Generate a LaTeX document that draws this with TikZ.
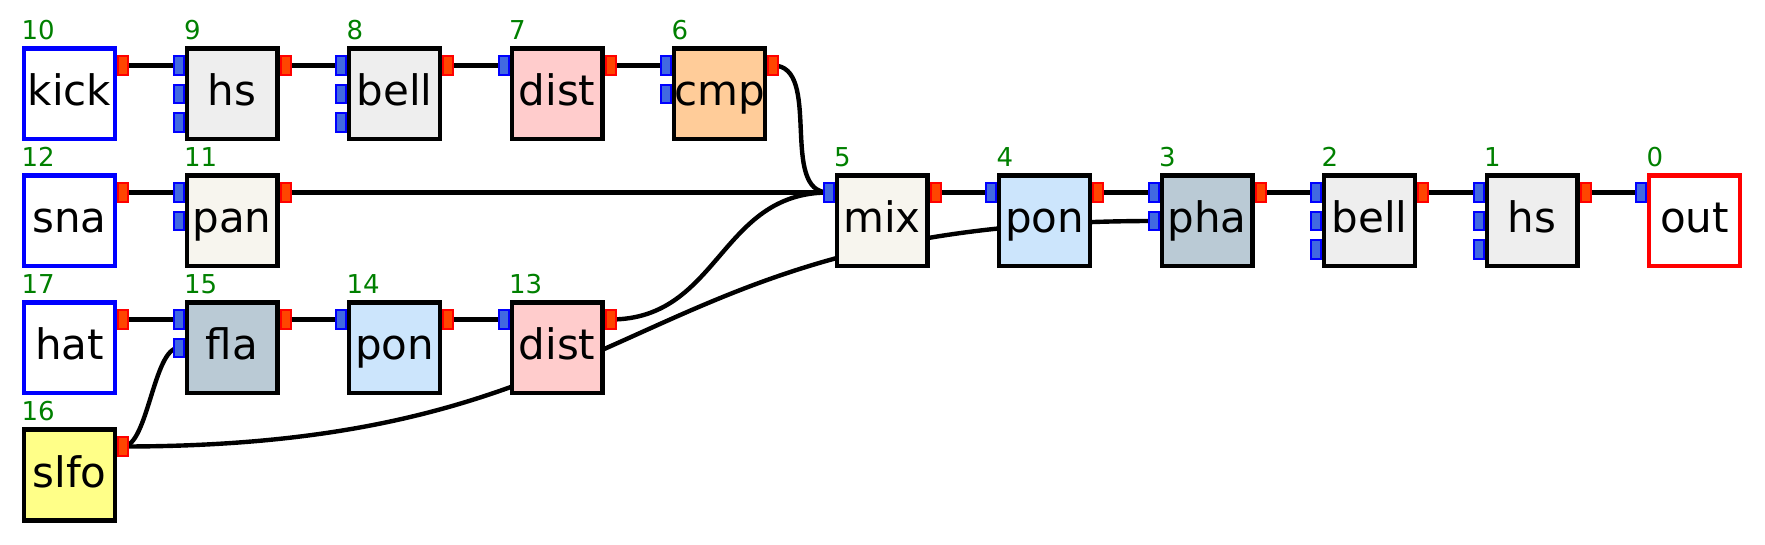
\documentclass[tikz,border=0pt]{standalone}
\usepackage{fontspec}
\setmainfont{DejaVu Sans}
\pgfdeclarelayer{wires}
\pgfsetlayers{wires,main}

\definecolor{grayfill}{HTML}{EEEEEE}
\definecolor{distfill}{HTML}{FFCCCC}
\definecolor{cmpfill}{HTML}{FFCC99}
\definecolor{panfill}{HTML}{F7F5EE}
\definecolor{ponfill}{HTML}{CCE5FC}
\definecolor{phafill}{HTML}{BACAD5}
\definecolor{lfofill}{HTML}{FFFF88}
\definecolor{numgreen}{HTML}{008000}
\definecolor{portblue}{HTML}{4169E1}
\definecolor{portred}{HTML}{FF4500}

\begin{document}
\begin{tikzpicture}[x=1pt,y=1pt,
        box/.style={draw,line width=4.2pt,minimum size=90.8pt,inner sep=0pt,outer sep=0pt,
            font=\fontsize{42}{48}\selectfont,text height=32pt,text depth=8pt},
        src/.style={box,draw=blue,fill=white},
        num/.style={font=\fontsize{26}{30}\selectfont,text=numgreen,inner sep=0pt,
            anchor=base west,xshift=-2.7pt,yshift=8.6pt},
        inport/.style={draw=blue,fill=portblue,line width=2pt,minimum width=10pt,
            minimum height=18.5pt,inner sep=0pt,outer sep=0pt},
        outport/.style={inport,draw=red,fill=portred},
        wire/.style={line width=4.4pt}]
    \useasboundingbox (0,0) rectangle (1765,544);

    % top row
    \node [src,label={[num]north west:10}] (kick10) at (69.5,450) {kick};
    \node [box,fill=grayfill,label={[num]north west:9}] (hs9) at (232,450) {hs};
    \node [box,fill=grayfill,label={[num]north west:8}] (bell8) at (394.5,450) {bell};
    \node [box,fill=distfill,label={[num]north west:7}] (dist7) at (557,450) {dist};
    \node [box,fill=cmpfill,label={[num]north west:6}] (cmp6) at (719.5,450) {cmp};

    % second row
    \node [src,label={[num]north west:12}] (sna12) at (69.5,323) {sna};
    \node [box,fill=panfill,label={[num]north west:11}] (pan11) at (232,323) {pan};
    \node [box,fill=panfill,label={[num]north west:5}] (mix5) at (882,323) {mix};
    \node [box,fill=ponfill,label={[num]north west:4}] (pon4) at (1044.5,323) {pon};
    \node [box,fill=phafill,label={[num]north west:3}] (pha3) at (1207,323) {pha};
    \node [box,fill=grayfill,label={[num]north west:2}] (bell2) at (1369.5,323) {bell};
    \node [box,fill=grayfill,label={[num]north west:1}] (hs1) at (1532,323) {hs};
    \node [box,draw=red,fill=white,label={[num]north west:0}] (out0) at (1694.5,323) {out};

    % third row
    \node [src,label={[num]north west:17}] (hat17) at (69.5,196) {hat};
    \node [box,fill=phafill,label={[num]north west:15}] (fla15) at (232,196) {fla};
    \node [box,fill=ponfill,label={[num]north west:14}] (pon14) at (394.5,196) {pon};
    \node [box,fill=distfill,label={[num]north west:13}] (dist13) at (557,196) {dist};

    % lfo
    \node [box,fill=lfofill,label={[num]north west:16}] (slfo16) at (69.5,69) {slfo};

    % ports
    \foreach \b/\n in {hs9/3,bell8/3,dist7/1,cmp6/2,pan11/2,mix5/1,pon4/1,pha3/2,
            bell2/3,hs1/3,out0/1,fla15/2,pon14/1,dist13/1}
        \foreach \k in {1,...,\n}
            \node [inport] (\b-\k) at ([shift={(-53.5,57-28.5*\k)}]\b.center) {};
    \foreach \b in {kick10,hs9,bell8,dist7,cmp6,sna12,pan11,mix5,pon4,pha3,
            bell2,hs1,hat17,fla15,pon14,dist13,slfo16}
        \node [outport] (\b-o) at ([shift={(53.5,28.5)}]\b.center) {};

    \begin{pgfonlayer}{wires}
        \draw [wire] (kick10-o.center) -- (hs9-1.center);
        \draw [wire] (hs9-o.center) -- (bell8-1.center);
        \draw [wire] (bell8-o.center) -- (dist7-1.center);
        \draw [wire] (dist7-o.center) -- (cmp6-1.center);
        \draw [wire] (sna12-o.center) -- (pan11-1.center);
        \draw [wire] (pan11-o.center) -- (mix5-1.center);
        \draw [wire] (mix5-o.center) -- (pon4-1.center);
        \draw [wire] (pon4-o.center) -- (pha3-1.center);
        \draw [wire] (pha3-o.center) -- (bell2-1.center);
        \draw [wire] (bell2-o.center) -- (hs1-1.center);
        \draw [wire] (hs1-o.center) -- (out0-1.center);
        \draw [wire] (hat17-o.center) -- (fla15-1.center);
        \draw [wire] (fla15-o.center) -- (pon14-1.center);
        \draw [wire] (pon14-o.center) -- (dist13-1.center);
        \draw [wire] (cmp6-o.center) to [out=0,in=180,looseness=0.92] (mix5-1.center);
        \draw [wire] (dist13-o.center) to [out=0,in=180,looseness=1.11] (mix5-1.center);
        \draw [wire] (slfo16-o.center) to [out=0,in=180,looseness=0.56] (fla15-2.center);
        \draw [wire] (slfo16-o.center) .. controls ([xshift=530pt]slfo16-o.center)
            and ([xshift=-530pt]pha3-2.center) .. (pha3-2.center);
    \end{pgfonlayer}
\end{tikzpicture}
\end{document}
